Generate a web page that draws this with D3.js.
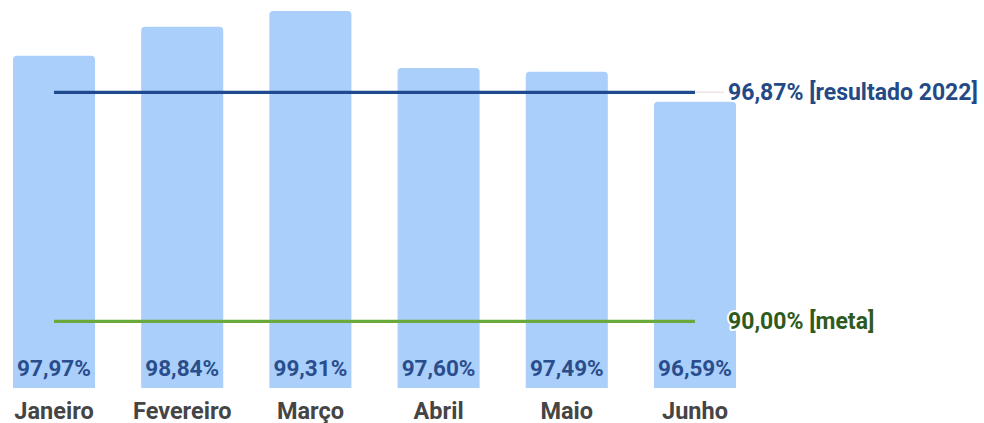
<!DOCTYPE html>
<html>
<head>
<meta charset="utf-8">
<script src="https://cdn.jsdelivr.net/npm/d3@7"></script>
<style>
  body { margin: 0; background: #fff; }
  svg { display: block; font-family: Roboto, "Noto Sans", sans-serif; }
</style>
</head>
<body>
<div id="chart"></div>
<script>
const months = ["Janeiro", "Fevereiro", "Março", "Abril", "Maio", "Junho"];
const values = [97.97, 98.84, 99.31, 97.60, 97.49, 96.59];
const refValues = [96.87, 90.00];
const refLabels = ["96,87% [resultado 2022]", "90,00% [meta]"];

const width = 984;
const height = 423;
const fmt = v => v.toFixed(2).replace(".", ",") + "%";

const x = d3.scaleBand().domain(months).range([13, 736]).paddingInner(0.36).paddingOuter(0);
const y = d3.scaleLinear().domain([88, 99.31]).range([388, 11]);

const svg = d3.create("svg").attr("width", width).attr("height", height);

// bars with rounded tops
const r = 4;
svg.append("g")
  .selectAll("path")
  .data(values)
  .join("path")
  .attr("fill", "#aacffa")
  .attr("d", (d, i) => {
    const x0 = x(months[i]), w = x.bandwidth(), y0 = y(d), yb = y.range()[0];
    return `M${x0},${yb}V${y0 + r}Q${x0},${y0} ${x0 + r},${y0}H${x0 + w - r}Q${x0 + w},${y0} ${x0 + w},${y0 + r}V${yb}Z`;
  });

// reference lines
const lineX0 = x(months[0]) + x.bandwidth() / 2;
const lineX1 = x(months[months.length - 1]) + x.bandwidth() / 2;
const lineColors = ["#1f4b8e", "#6aaa3d"];
const textColors = ["#244a86", "#2f5a1d"];

// faint connector to label
svg.append("line")
  .attr("x1", lineX1).attr("x2", 724)
  .attr("y1", y(refValues[0])).attr("y2", y(refValues[0]))
  .attr("stroke", "#eee3e6").attr("stroke-width", 1.5);

svg.append("g")
  .selectAll("line")
  .data(refValues)
  .join("line")
  .attr("x1", lineX0).attr("x2", lineX1)
  .attr("y1", d => y(d)).attr("y2", d => y(d))
  .attr("stroke", (d, i) => lineColors[i])
  .attr("stroke-width", 3.2);

svg.append("g")
  .attr("font-size", 23)
  .attr("font-weight", "bold")
  .selectAll("text")
  .data(refValues)
  .join("text")
  .attr("x", 728)
  .attr("y", d => y(d))
  .attr("dy", "0.35em")
  .attr("fill", (d, i) => textColors[i])
  .attr("stroke", "#fff").attr("stroke-width", 4).attr("stroke-linejoin", "round")
  .attr("paint-order", "stroke")
  .text((d, i) => refLabels[i]);

// value labels inside bars
svg.append("g")
  .attr("font-size", 22.5)
  .attr("font-weight", "bold")
  .attr("text-anchor", "middle")
  .attr("fill", "#2a4d8c")
  .selectAll("text")
  .data(values)
  .join("text")
  .attr("x", (d, i) => x(months[i]) + x.bandwidth() / 2)
  .attr("y", 376)
  .text(d => fmt(d));

// category labels
svg.append("g")
  .attr("font-size", 23.5)
  .attr("font-weight", "bold")
  .attr("text-anchor", "middle")
  .attr("fill", "#454545")
  .selectAll("text")
  .data(months)
  .join("text")
  .attr("x", d => x(d) + x.bandwidth() / 2)
  .attr("y", 419)
  .text(d => d);

d3.select("#chart").node().appendChild(svg.node());
</script>
</body>
</html>
